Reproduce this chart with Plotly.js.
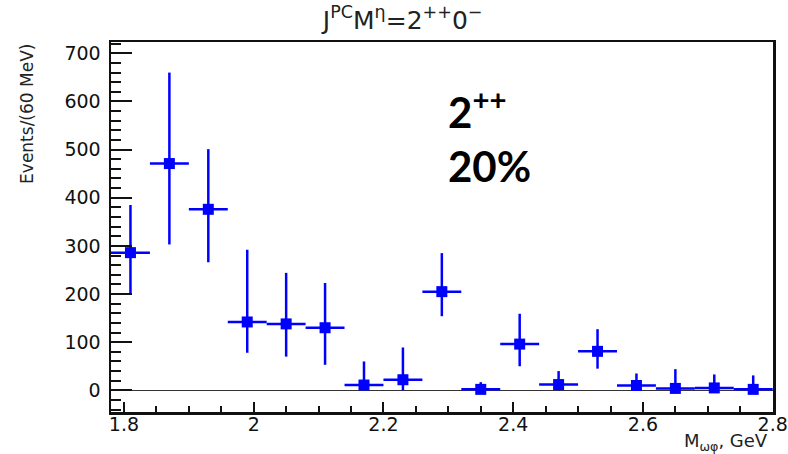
<!DOCTYPE html>
<html>
<head>
<meta charset="utf-8">
<script src="https://cdn.plot.ly/plotly-3.0.1.min.js"></script>
<style>html,body{margin:0;padding:0;background:#fff;}#chart{width:788px;height:454px;}</style>
</head>
<body>
<div id="chart"></div>
<script>
// Bin centers (GeV), 60 MeV bins
const massBins = [1.81, 1.87, 1.93, 1.99, 2.05, 2.11, 2.17, 2.23, 2.29, 2.35, 2.41, 2.47, 2.53, 2.59, 2.65, 2.71, 2.77];
// Events per 60 MeV
const events = [286, 471, 376, 142, 138, 130, 11, 22, 205, 2, 96, 12, 81, 10, 4, 5, 2];
// Upper and lower errors
const errUp = [99, 189, 125, 150, 106, 93, 49, 67, 80, 15, 63, 28, 46, 25, 40, 28, 29];
const errDown = [84, 168, 110, 64, 68, 77, 11, 22, 51, 2, 46, 12, 36, 10, 4, 5, 2];
// Half bin width (GeV)
const binHalfWidth = [0.03, 0.03, 0.03, 0.03, 0.03, 0.03, 0.03, 0.03, 0.03, 0.03, 0.03, 0.03, 0.03, 0.03, 0.03, 0.03, 0.03];
// Axis tick labels
const xTickVals = [1.8, 2.0, 2.2, 2.4, 2.6, 2.8];
const xTickText = ['1.8', '2', '2.2', '2.4', '2.6', '2.8'];

const blue = '#0000ff';
const axisFont = {family: 'DejaVu Sans, sans-serif', size: 19, color: '#111'};

const trace = {
  x: massBins,
  y: events,
  type: 'scatter',
  mode: 'markers',
  marker: {symbol: 'square', size: 11, color: blue},
  error_y: {type: 'data', symmetric: false, array: errUp, arrayminus: errDown, color: blue, thickness: 2.5, width: 0},
  error_x: {type: 'data', array: binHalfWidth, color: blue, thickness: 2.5, width: 0},
  showlegend: false,
  hoverinfo: 'x+y'
};

const layout = {
  width: 788, height: 454,
  margin: {l: 111, r: 15, t: 42, b: 42},
  paper_bgcolor: '#fff', plot_bgcolor: '#fff',
  title: {
    text: 'J<sup>PC</sup>M<sup>η</sup>=2<sup>++</sup>0<sup>−</sup>',
    font: {family: 'DejaVu Sans, sans-serif', size: 25, color: '#222'},
    xref: 'container', yref: 'container', x: 0.511, y: 0.956, xanchor: 'center', yanchor: 'middle'
  },
  xaxis: {
    range: [1.78, 2.8005],
    tickmode: 'array', tickvals: xTickVals, ticktext: xTickText,
    ticks: 'inside', ticklen: 10, tickwidth: 2, tickcolor: '#111',
    minor: {tick0: 1.8, dtick: 0.05, ticks: 'inside', ticklen: 6, tickwidth: 2, tickcolor: '#111', showgrid: false},
    showgrid: false, zeroline: false,
    showline: true, linecolor: '#111', linewidth: 2.5, mirror: true,
    tickfont: axisFont,
    ticklabelstandoff: -6,
    fixedrange: true
  },
  yaxis: {
    range: [-45, 723.5],
    tick0: 0, dtick: 100,
    ticks: 'inside', ticklen: 21, tickwidth: 2, tickcolor: '#111',
    minor: {dtick: 20, ticks: 'inside', ticklen: 10, tickwidth: 2, tickcolor: '#111', showgrid: false},
    showgrid: false,
    zeroline: true, zerolinecolor: '#333', zerolinewidth: 1.5,
    showline: true, linecolor: '#111', linewidth: 2.5, mirror: true,
    tickfont: axisFont,
    ticklabelstandoff: 4,
    fixedrange: true
  },
  annotations: [
    {text: 'Events/(60 MeV)', textangle: -90, xref: 'paper', yref: 'paper', x: -0.127, y: 1.0,
     xanchor: 'center', yanchor: 'top', showarrow: false,
     font: {family: 'DejaVu Sans, sans-serif', size: 17, color: '#222'}},
    {text: 'M<sub>ωφ</sub>, GeV', xref: 'paper', yref: 'paper', x: 0.995, y: -0.082,
     xanchor: 'right', yanchor: 'middle', showarrow: false,
     font: {family: 'DejaVu Sans, sans-serif', size: 18, color: '#222'}},
    {text: '<b>2<sup>++</sup></b>', xref: 'paper', yref: 'paper', x: 0.506, y: 0.82,
     xanchor: 'left', yanchor: 'middle', showarrow: false,
     font: {family: 'Lato, sans-serif', size: 42, color: '#000'}},
    {text: '<b>20%</b>', xref: 'paper', yref: 'paper', x: 0.506, y: 0.665,
     xanchor: 'left', yanchor: 'middle', showarrow: false,
     font: {family: 'Lato, sans-serif', size: 42, color: '#000'}}
  ]
};

Plotly.newPlot('chart', [trace], layout, {displayModeBar: false, staticPlot: true});
</script>
</body>
</html>
